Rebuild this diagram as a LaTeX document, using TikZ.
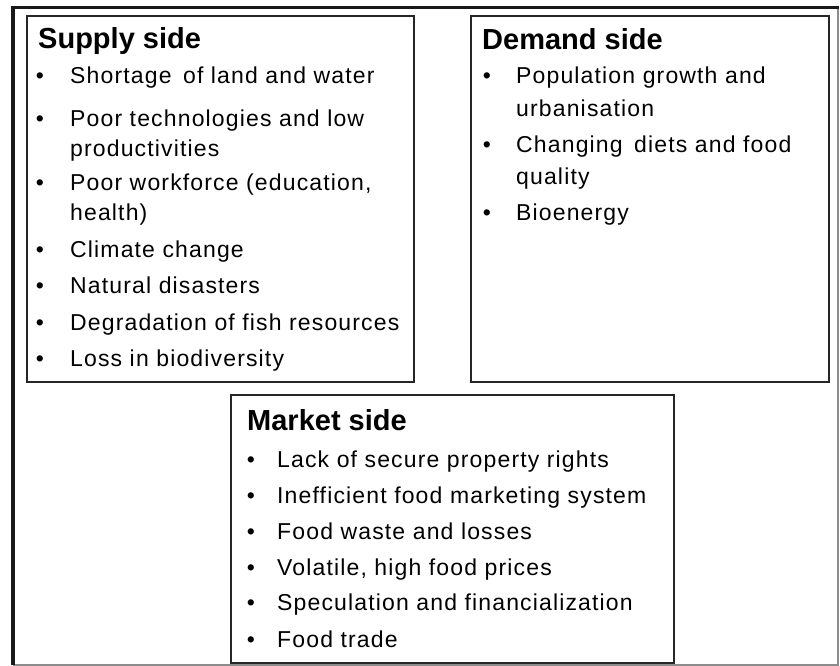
\documentclass[tikz,border=0pt]{standalone}
\usepackage{fontspec}
\newfontfamily\boxfont{Liberation Sans}[LetterSpace=5]
\newfontfamily\boxheadfont{Liberation Sans}
\newcommand\itemfont{\boxfont\fontsize{23}{27}\selectfont}
\newcommand\headfont{\boxheadfont\bfseries\fontsize{29}{34}\selectfont}
\tikzset{
  frameedge/.style={line width=3.5pt, draw=black!90},
  frameshade/.style={line width=1.2pt, draw=black!45},
  panel/.style={line width=1.8pt, draw=black!85},
  head/.style={anchor=base west, inner sep=0pt, font=\headfont},
  item/.style={anchor=base west, inner sep=0pt, font=\itemfont},
  dot/.style={anchor=base, inner sep=0pt, font=\itemfont},
}
\begin{document}
\begin{tikzpicture}[x=1pt, y=-1pt]
\useasboundingbox (0,0) rectangle (840,666);

% outer frame: dark on top and left, light on bottom and right
\draw[frameshade] (13,665) -- (838,665) -- (838,8);
\draw[frameedge] (13,665) -- (13,7.5) -- (839,7.5);

% the three panels
\draw[panel] (27,16) rectangle (414,382);
\draw[panel] (471,16) rectangle (829,382);
\draw[panel] (231,395) rectangle (674,663);

% supply side
\node[head] (sh) at (38,49) {Supply side};
\node[dot] (s1b) at (40,84) {•};
\node[item] (s1) at (70,84) {Shortage\hspace{4pt} of land and water};
\node[dot] (s2b) at (40,127) {•};
\node[item] (s2) at (70,127) {Poor technologies and low};
\node[item] (s2c) at (70,157) {productivities};
\node[dot] (s3b) at (40,190) {•};
\node[item] (s3) at (70,190) {Poor workforce (education,};
\node[item] (s3c) at (70,220) {health)};
\node[dot] (s4b) at (40,257) {•};
\node[item] (s4) at (70,257) {Climate change};
\node[dot] (s5b) at (40,293) {•};
\node[item] (s5) at (70,293) {Natural disasters};
\node[dot] (s6b) at (40,330) {•};
\node[item] (s6) at (70,330) {Degradation of fish resources};
\node[dot] (s7b) at (40,366) {•};
\node[item] (s7) at (70,366) {Loss in biodiversity};

% demand side
\node[head] (dh) at (482,50) {Demand side};
\node[dot] (d1b) at (487,84) {•};
\node[item] (d1) at (516,84) {Population growth and};
\node[item] (d1c) at (516,117) {urbanisation};
\node[dot] (d2b) at (487,153) {•};
\node[item] (d2) at (516,153) {Changing\hspace{4pt} diets and food};
\node[item] (d2c) at (516,184) {quality};
\node[dot] (d3b) at (487,220) {•};
\node[item] (d3) at (516,220) {Bioenergy};

% market side
\node[head] (mh) at (247,430) {Market side};
\node[dot] (m1b) at (251,467) {•};
\node[item] (m1) at (277,467) {Lack of secure property rights};
\node[dot] (m2b) at (251,503) {•};
\node[item] (m2) at (277,503) {Inefficient food marketing system};
\node[dot] (m3b) at (251,539) {•};
\node[item] (m3) at (277,539) {Food waste and losses};
\node[dot] (m4b) at (251,575) {•};
\node[item] (m4) at (277,575) {Volatile, high food prices};
\node[dot] (m5b) at (251,610) {•};
\node[item] (m5) at (277,610) {Speculation and financialization};
\node[dot] (m6b) at (251,647) {•};
\node[item] (m6) at (277,647) {Food trade};
\end{tikzpicture}
\end{document}
